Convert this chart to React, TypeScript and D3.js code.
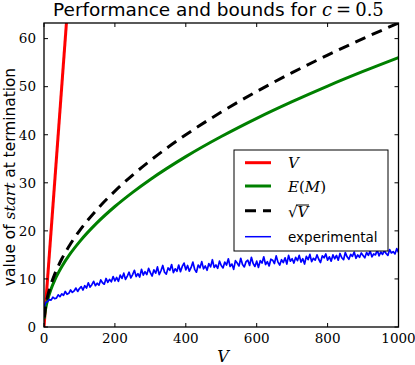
import React from "react";
import * as d3 from "d3";

const W = 415;
const H = 365;

// Smooth bound curves (sampled)
const curveV = [1, 2, 5, 10, 20, 30, 50, 75, 100, 150, 200, 250, 300, 400, 500, 600, 700, 800, 900, 1000];
const sqrtBound = [2, 2.83, 4.47, 6.32, 8.94, 10.95, 14.14, 17.32, 20, 24.49, 28.28, 31.62, 34.64, 40, 44.72, 48.99, 52.92, 56.57, 60, 63.25];
const expectedM = [1.77, 2.51, 3.96, 5.6, 7.93, 9.71, 12.53, 15.35, 17.72, 21.71, 25.07, 28.02, 30.7, 35.45, 39.63, 43.42, 46.89, 50.13, 53.17, 56.05];

// Linear bound V
const linearV = [0, 1000];
const linearVals = [0, 1000];

// Experimental (noisy) values, V = 1 then 5..1000 step 5
const experimental = [
  4.3,
  5.1, 5.3, 5.7, 5.6, 6.2, 5.9, 6.0, 6.7, 6.3, 6.9, 6.6, 7.4, 6.8, 7.0, 7.7, 7.2, 7.5, 8.1, 7.4, 8.0,
  8.4, 7.7, 8.6, 8.1, 9.2, 8.3, 8.8, 9.5, 8.6, 9.1, 8.7, 9.8, 9.2, 8.9, 10.1, 9.3, 9.9, 9.4, 10.5, 9.6,
  10.3, 9.5, 10.8, 10.1, 11.2, 9.9, 10.6, 11.4, 10.2, 10.9, 11.8, 10.5, 11.1, 10.4, 12.0, 10.8, 11.5, 10.9, 12.2, 11.3,
  10.6, 11.9, 11.2, 12.5, 10.9, 11.7, 12.8, 11.4, 11.0, 12.3, 11.8, 13.0, 11.3, 12.1, 11.6, 12.9, 11.5, 12.6, 13.3, 11.9,
  12.8, 11.6, 12.4, 13.5, 12.0, 11.4, 12.9, 12.3, 13.6, 12.1, 12.7, 11.8, 13.2, 12.5, 14.0, 12.4, 12.9, 12.2, 13.7, 12.8,
  12.3, 13.5, 12.9, 14.2, 12.6, 13.1, 12.0, 13.8, 13.3, 12.7, 14.3, 13.0, 12.5, 13.6, 13.9, 12.8, 14.5, 13.2, 12.6, 13.7,
  12.4, 13.8, 13.3, 14.6, 13.0, 13.6, 12.7, 14.1, 13.9, 13.2, 14.8, 13.5, 12.9, 14.0, 13.4, 14.4, 13.1, 14.9, 13.7, 14.2,
  13.3, 14.5, 13.8, 14.9, 13.5, 14.2, 13.1, 14.7, 14.0, 15.1, 13.6, 14.3, 13.9, 15.0, 14.1, 13.4, 14.8, 14.4, 15.2, 13.9,
  14.6, 13.7, 15.0, 14.2, 14.9, 13.9, 15.3, 14.4, 14.0, 15.5, 14.6, 14.1, 15.1, 14.7, 15.6, 14.3, 15.0, 14.5, 15.4, 14.9,
  14.4, 15.5, 14.9, 15.8, 14.6, 15.2, 15.0, 16.0, 14.8, 15.6, 15.1, 15.9, 15.3, 14.9, 16.1, 15.4, 15.7, 15.2, 16.3, 15.5,
];
const experimentalV = [1, ...d3.range(5, 1001, 5)];

const xTicks = [0, 200, 400, 600, 800, 1000];
const yTicks = [0, 10, 20, 30, 40, 50, 60];

const left = 44;
const right = 398.5;
const top = 23;
const bottom = 327;

export default function App() {
  const x = d3.scaleLinear().domain([0, 1000]).range([left, right]);
  const y = d3.scaleLinear().domain([0, 63.25]).range([bottom, top]);

  const line = d3
    .line<[number, number]>()
    .x((d) => x(d[0]))
    .y((d) => y(d[1]));
  const smooth = d3
    .line<[number, number]>()
    .x((d) => x(d[0]))
    .y((d) => y(d[1]))
    .curve(d3.curveMonotoneX);

  const redPath = line(linearV.map((v, i) => [v, linearVals[i]]));
  const greenPath = smooth(curveV.map((v, i) => [v, expectedM[i]]));
  const blackPath = smooth(curveV.map((v, i) => [v, sqrtBound[i]]));
  const bluePath = line(experimentalV.map((v, i) => [v, experimental[i]]));

  const serif = "'DejaVu Serif', serif";
  const sans = "'DejaVu Sans', sans-serif";

  const lx0 = 245;
  const lx1 = 271;
  const tx = 288;

  return (
    <svg width={W} height={H} style={{ position: "absolute", left: 0, top: 0 }}>
      <rect x={0} y={0} width={W} height={H} fill="#fff" />
      <defs>
        <clipPath id="plotclip">
          <rect x={left} y={top} width={right - left} height={bottom - top} />
        </clipPath>
      </defs>
      <g clipPath="url(#plotclip)">
        <path d={redPath!} fill="none" stroke="#ff0000" strokeWidth={3} />
        <path d={greenPath!} fill="none" stroke="#008000" strokeWidth={3} />
        <path d={blackPath!} fill="none" stroke="#000" strokeWidth={3} strokeDasharray="11,7" />
        <path d={bluePath!} fill="none" stroke="#0000ff" strokeWidth={1.7} strokeLinejoin="round" />
      </g>

      {/* ticks */}
      {xTicks.map((t) => (
        <g key={"xt" + t}>
          <line x1={x(t)} x2={x(t)} y1={bottom} y2={bottom - 4} stroke="#000" strokeWidth={1} />
          <line x1={x(t)} x2={x(t)} y1={top} y2={top + 4} stroke="#000" strokeWidth={1} />
          <text x={x(t)} y={342.5} textAnchor="middle" fontFamily={serif} fontSize={13.5}>
            {t}
          </text>
        </g>
      ))}
      {yTicks.map((t) => (
        <g key={"yt" + t}>
          <line x1={left} x2={left + 4} y1={y(t)} y2={y(t)} stroke="#000" strokeWidth={1} />
          <line x1={right} x2={right - 4} y1={y(t)} y2={y(t)} stroke="#000" strokeWidth={1} />
          <text x={36} y={y(t) + 4.8} textAnchor="end" fontFamily={serif} fontSize={13.5}>
            {t}
          </text>
        </g>
      ))}

      <rect x={left} y={top} width={right - left} height={bottom - top} fill="none" stroke="#000" strokeWidth={1.3} />

      {/* title */}
      <text x={53} y={16} fontFamily={sans} fontSize={18.5}>
        Performance and bounds for
      </text>
      <text x={322} y={16} fontFamily={serif} fontSize={18}>
        <tspan fontStyle="italic">c</tspan>
        <tspan dx={4}>=</tspan>
        <tspan dx={4}>0.5</tspan>
      </text>

      {/* axis labels */}
      <text x={223} y={362} textAnchor="middle" fontFamily={serif} fontStyle="italic" fontSize={16}>
        V
      </text>
      <text transform="translate(15,177) rotate(-90)" textAnchor="middle" fontFamily={sans} fontSize={15.4}>
        value of{" "}
        <tspan fontFamily={serif} fontStyle="italic">
          start
        </tspan>{" "}
        at termination
      </text>

      {/* legend */}
      <rect x={234} y={150} width={154} height={101} fill="#fff" stroke="#000" strokeWidth={1} />
      <line x1={lx0} x2={lx1} y1={162.7} y2={162.7} stroke="#ff0000" strokeWidth={3} />
      <text x={tx} y={168} fontFamily={serif} fontStyle="italic" fontSize={15}>
        V
      </text>
      <line x1={lx0} x2={lx1} y1={186} y2={186} stroke="#008000" strokeWidth={3} />
      <text x={tx} y={191.5} fontFamily={serif} fontSize={15}>
        <tspan fontStyle="italic">E</tspan>(<tspan fontStyle="italic">M</tspan>)
      </text>
      <line x1={lx0} x2={lx1} y1={210.7} y2={210.7} stroke="#000" strokeWidth={3} strokeDasharray="11,7" />
      <text x={tx} y={217} fontFamily={serif} fontSize={15}>
        √<tspan fontStyle="italic">V</tspan>
      </text>
      <line x1={296} x2={309} y1={205} y2={205} stroke="#000" strokeWidth={1} />
      <line x1={lx0} x2={lx1} y1={236.7} y2={236.7} stroke="#0000ff" strokeWidth={1.5} />
      <text x={tx} y={241.5} fontFamily={sans} fontSize={13.5}>
        experimental
      </text>
    </svg>
  );
}
